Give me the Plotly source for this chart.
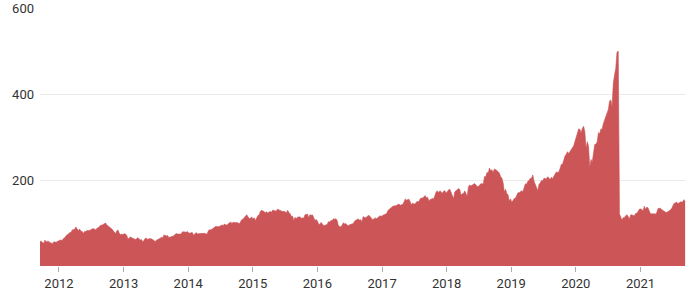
import pandas as pd
import plotly.graph_objects as go

# Weekly closes (Friday), from 2011-09-16 to 2021-09-10
v2011 = [57.2, 57.7, 54.5, 52.8, 60.3, 56.0, 57.7, 57.2, 54.9, 53.5, 51.9, 55.8, 56.2, 54.5, 57.6, 57.9]
v2012 = [60.3, 59.9, 60.0, 63.9, 65.6, 70.5, 71.8, 74.6, 77.9, 77.9, 83.6, 85.2, 85.6,
         90.5, 86.5, 81.8, 86.2, 80.8, 80.6, 75.8, 80.3, 80.0, 82.9, 82.0, 83.2, 83.5,
         86.5, 86.4, 86.3, 83.6, 87.9, 88.8, 92.6, 94.7, 95.0, 97.2, 98.8, 100.0, 95.3,
         93.2, 89.9, 87.0, 86.3, 82.3, 78.2, 75.3, 81.6, 83.6, 76.2, 72.7, 74.3, 72.8]
v2013 = [75.3, 74.3, 71.4, 62.8, 64.8, 67.9, 65.8, 64.3, 61.5, 61.7, 63.4, 65.9, 63.2,
         60.5, 61.4, 55.8, 59.6, 64.3, 64.6, 61.9, 63.6, 64.2, 63.1, 61.5, 59.1, 56.7,
         59.6, 60.9, 62.7, 64.3, 66.8, 64.9, 71.8, 71.6, 69.6, 71.2, 66.3, 66.8, 68.9,
         69.0, 70.4, 72.7, 75.7, 74.3, 74.3, 74.9, 74.2, 79.4, 80.0, 79.2, 78.4, 80.0]
v2014 = [77.3, 76.1, 77.2, 78.0, 71.5, 74.2, 77.7, 75.0, 75.2, 75.8, 74.9, 76.1, 76.7,
         75.9, 74.2, 74.9, 81.7, 84.6, 83.6, 85.4, 87.7, 90.4, 92.2, 91.3, 90.9, 91.98,
         94.03, 95.22, 94.43, 97.67, 96.13, 94.74, 97.98, 101.32, 102.5, 98.97, 101.66, 100.96, 100.75,
         99.62, 100.73, 97.67, 105.22, 108.0, 109.01, 114.18, 116.47, 118.93, 115.0, 109.73, 111.78, 113.99]
v2015 = [109.33, 112.01, 105.99, 112.98, 117.16, 118.93, 127.08, 129.5, 128.46, 126.6, 123.59, 125.9, 123.25,
         125.32, 127.1, 124.75, 130.28, 128.95, 127.62, 128.77, 132.54, 130.28, 128.65, 127.17, 126.6, 126.75,
         126.44, 123.28, 129.62, 124.5, 121.3, 115.52, 115.96, 105.76, 113.29, 109.27, 114.21, 113.45, 114.71,
         110.38, 112.12, 111.04, 119.08, 119.5, 121.06, 112.34, 119.3, 117.81, 119.03, 113.18, 106.03, 108.03, 105.26]
v2016 = [96.96, 97.13, 101.42, 97.34, 94.02, 93.99, 96.04, 96.91, 103.01, 102.26, 105.92, 105.67, 109.99,
         108.66, 109.85, 105.68, 93.74, 92.72, 90.52, 95.22, 100.35, 97.92, 98.83, 95.33, 93.4, 95.89,
         96.68, 98.78, 98.66, 104.21, 107.48, 108.18, 109.36, 106.94, 107.73, 103.13, 114.92, 112.71, 113.05,
         114.06, 117.63, 116.6, 113.72, 108.84, 108.43, 110.06, 111.79, 109.9, 113.95, 115.97, 116.52, 115.82]
v2017 = [117.91, 119.04, 120.0, 121.95, 129.08, 132.12, 135.72, 136.66, 139.14, 139.14, 139.99, 140.64, 143.66,
         143.34, 141.05, 142.27, 143.65, 148.96, 156.1, 153.06, 153.61, 155.45, 148.98, 142.27, 146.28, 144.02,
         144.18, 149.04, 150.27, 149.5, 156.39, 157.48, 157.5, 159.86, 164.05, 158.63, 159.88, 151.89, 154.12,
         155.3, 156.99, 156.25, 163.05, 172.5, 174.67, 170.15, 174.97, 171.05, 169.37, 173.97, 175.01, 169.23]
v2018 = [175.0, 177.09, 178.46, 171.51, 160.5, 156.41, 172.43, 175.5, 176.21, 179.98, 178.02, 164.94, 167.78,
         168.38, 174.73, 165.72, 162.32, 183.83, 188.59, 186.31, 188.58, 190.24, 191.7, 188.84, 184.92, 185.11,
         187.97, 191.33, 191.44, 190.98, 207.99, 207.53, 217.58, 216.16, 227.63, 221.3, 223.84, 217.66, 225.74,
         224.29, 222.11, 219.31, 216.3, 207.48, 204.47, 193.53, 172.29, 178.58, 168.49, 165.48, 150.73, 156.23]
v2019 = [148.26, 152.29, 156.82, 157.76, 166.52, 170.41, 170.42, 172.97, 174.97, 172.91, 186.12, 191.05, 189.95,
         197.0, 198.87, 203.86, 204.3, 211.75, 197.18, 189.0, 178.97, 175.07, 190.15, 192.74, 198.78, 197.92,
         204.23, 203.3, 202.59, 207.74, 204.02, 200.99, 206.5, 202.64, 208.74, 213.26, 218.75, 217.73, 218.82,
         227.01, 236.21, 236.41, 246.58, 255.82, 260.14, 265.76, 261.78, 267.25, 270.71, 275.15, 279.44, 289.8]
v2020 = [297.43, 310.33, 318.73, 318.31, 309.51, 320.03, 324.95, 313.05, 273.36, 289.03, 277.97, 229.24, 247.74,
         241.41, 267.99, 282.8, 282.97, 289.07, 310.13, 307.71, 318.89, 317.94, 331.5, 338.8, 349.72, 353.63,
         364.11, 383.68, 386.09, 370.46, 425.04, 444.45, 459.63, 497.48, 499.23, 120.96, 112.0, 106.84, 112.28,
         113.02, 116.97, 119.02, 115.04, 108.86, 118.69, 119.26, 117.34, 116.59, 122.25, 122.41, 126.66, 131.97, 132.69]
v2021 = [132.05, 127.14, 139.07, 131.96, 136.76, 135.37, 129.87, 121.26, 121.42, 121.03, 119.99, 121.21,
         123.0, 133.0, 134.16, 134.32, 131.46, 130.21, 127.45, 125.43, 124.61, 125.89, 127.35, 130.46, 133.11,
         139.96, 145.11, 146.39, 148.56, 145.86, 146.14, 149.1, 148.19, 148.6, 154.3, 150.0]

values = v2011 + v2012 + v2013 + v2014 + v2015 + v2016 + v2017 + v2018 + v2019 + v2020 + v2021
dates = pd.date_range("2011-09-16", periods=len(values), freq="W-FRI")

y_ticks = [200, 400, 600]

fig = go.Figure()
fig.add_trace(go.Scatter(
    x=dates, y=values, mode="lines", fill="tozeroy",
    line=dict(color="#cc5457", width=0.6),
    fillcolor="#cc5558", hoverinfo="skip",
))

fig.update_layout(
    width=700, height=300,
    margin=dict(l=40, r=14, t=8, b=34),
    paper_bgcolor="white", plot_bgcolor="white",
    showlegend=False,
    font=dict(family="Roboto", size=13, color="#333333"),
)
fig.update_xaxes(
    range=[dates[0], dates[-1] + pd.Timedelta(days=5)],
    dtick="M12", tick0="2012-01-01", tickformat="%Y",
    ticks="outside", ticklen=5, tickcolor="#aaaaaa",
    showgrid=False, showline=False, zeroline=False, automargin=False,
)
fig.update_yaxes(
    range=[0, 600], tickvals=y_ticks,
    showgrid=True, gridcolor="#ebebeb", gridwidth=1,
    zeroline=False, showline=False, ticks="", automargin=False,
    ticklabelstandoff=5,
)

fig.write_html("out.html")
